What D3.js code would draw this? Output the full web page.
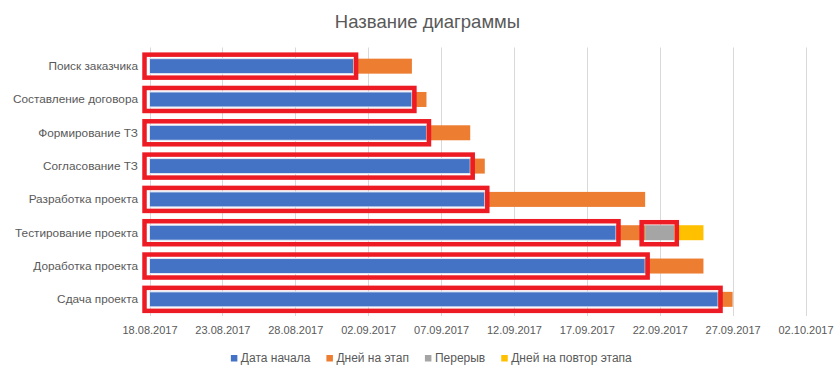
<!DOCTYPE html>
<html>
<head>
<meta charset="utf-8">
<script src="https://cdn.jsdelivr.net/npm/d3@7"></script>
<style>
  html, body { margin: 0; padding: 0; background: #fff; }
  svg { display: block; }
  text { font-family: "Liberation Sans Narrow", "Arial Narrow", "Liberation Sans", sans-serif; fill: #595959; }
</style>
</head>
<body>
<svg id="chart" width="835" height="365"></svg>
<script>
// Project stages and their schedule
const categories = [
  "Поиск заказчика",
  "Составление договора",
  "Формирование ТЗ",
  "Согласование ТЗ",
  "Разработка проекта",
  "Тестирование проекта",
  "Доработка проекта",
  "Сдача проекта"
];
const startDates = [
  "01.09.2017", "05.09.2017", "06.09.2017", "09.09.2017",
  "10.09.2017", "19.09.2017", "21.09.2017", "26.09.2017"
];
const stageDays  = [4, 1, 3, 1, 11, 2, 4, 1];
const pauseDays  = [0, 0, 0, 0, 0, 2, 0, 0];
const repeatDays = [0, 0, 0, 0, 0, 2, 0, 0];

const tickLabels = [
  "18.08.2017", "23.08.2017", "28.08.2017", "02.09.2017", "07.09.2017",
  "12.09.2017", "17.09.2017", "22.09.2017", "27.09.2017", "02.10.2017"
];

const seriesNames  = ["Дата начала", "Дней на этап", "Перерыв", "Дней на повтор этапа"];
const seriesColors = ["#4472C4", "#ED7D31", "#A5A5A5", "#FFC000"];
const markRed = "#ED1C24";

const parseDate = d3.timeParse("%d.%m.%Y");
const addDays = (d, n) => d3.timeDay.offset(d, n);

const ticks = tickLabels.map(parseDate);
const rows = categories.map((name, i) => {
  const start = parseDate(startDates[i]);
  const stageEnd = addDays(start, stageDays[i]);
  const pauseEnd = addDays(stageEnd, pauseDays[i]);
  const repeatEnd = addDays(pauseEnd, repeatDays[i]);
  return { name, start, stageEnd, pauseEnd, repeatEnd, pause: pauseDays[i], repeat: repeatDays[i] };
});

const svg = d3.select("#chart");
const plot = { left: 149.5, right: 805.5, top: 49.5, bottom: 316 };

const x = d3.scaleTime()
  .domain([ticks[0], ticks[ticks.length - 1]])
  .range([plot.left, plot.right]);

const y = d3.scaleBand()
  .domain(categories)
  .range([plot.top, plot.bottom])
  .paddingInner(0.55)
  .paddingOuter(0.275);

const axisMin = x.domain()[0];

// Title
svg.append("text")
  .attr("x", 427.5).attr("y", 27.5)
  .attr("text-anchor", "middle")
  .style("font-size", "18.5px")
  .text("Название диаграммы");

// Vertical gridlines
svg.append("g")
  .selectAll("line")
  .data(ticks)
  .join("line")
  .attr("x1", d => Math.round(x(d)) + 0.5)
  .attr("x2", d => Math.round(x(d)) + 0.5)
  .attr("y1", plot.top - 2)
  .attr("y2", plot.bottom)
  .attr("stroke", "#D9D9D9")
  .attr("stroke-width", 1);

// Date axis labels
const xAxis = d3.axisBottom(x)
  .tickValues(ticks)
  .tickFormat((d, i) => tickLabels[i])
  .tickSize(0)
  .tickPadding(0);
const gx = svg.append("g")
  .attr("transform", `translate(0, ${plot.bottom + 10})`)
  .call(xAxis);
gx.select(".domain").remove();
gx.selectAll("text")
  .attr("fill", "#595959")
  .style("font-size", "11px")
  .style("font-family", null);

// Category labels
const yAxis = d3.axisLeft(y).tickSize(0).tickPadding(0);
const gy = svg.append("g")
  .attr("transform", `translate(${plot.left - 11.5}, 0)`)
  .call(yAxis);
gy.select(".domain").remove();
gy.selectAll("text")
  .attr("fill", "#595959")
  .style("font-size", "11.8px")
  .style("font-family", null);

// Stacked bars
const bh = y.bandwidth();
const bars = svg.append("g");

bars.selectAll("rect.start")
  .data(rows)
  .join("rect")
  .attr("class", "start")
  .attr("x", x(axisMin))
  .attr("y", d => y(d.name))
  .attr("width", d => x(d.start) - x(axisMin))
  .attr("height", bh)
  .attr("fill", seriesColors[0])
  .attr("stroke", "#E4EAF5")
  .attr("stroke-width", 1);

bars.selectAll("rect.stage")
  .data(rows)
  .join("rect")
  .attr("class", "stage")
  .attr("x", d => x(d.start))
  .attr("y", d => y(d.name))
  .attr("width", d => x(d.stageEnd) - x(d.start))
  .attr("height", bh)
  .attr("fill", seriesColors[1]);

bars.selectAll("rect.pause")
  .data(rows.filter(d => d.pause > 0))
  .join("rect")
  .attr("class", "pause")
  .attr("x", d => x(d.stageEnd))
  .attr("y", d => y(d.name))
  .attr("width", d => x(d.pauseEnd) - x(d.stageEnd))
  .attr("height", bh)
  .attr("fill", seriesColors[2]);

bars.selectAll("rect.repeat")
  .data(rows.filter(d => d.repeat > 0))
  .join("rect")
  .attr("class", "repeat")
  .attr("x", d => x(d.pauseEnd))
  .attr("y", d => y(d.name))
  .attr("width", d => x(d.repeatEnd) - x(d.pauseEnd))
  .attr("height", bh)
  .attr("fill", seriesColors[3]);

// Red frames around the waiting part of every stage and around the pause
const marks = svg.append("g")
  .attr("fill", "none")
  .attr("stroke", markRed)
  .attr("stroke-width", 4.5);

marks.selectAll("rect.frame")
  .data(rows)
  .join("rect")
  .attr("class", "frame")
  .attr("x", x(axisMin) - 5)
  .attr("y", d => y(d.name) + bh / 2 - 11.5)
  .attr("width", d => x(d.start) - x(axisMin) + 7.5)
  .attr("height", 23);

marks.selectAll("rect.pauseframe")
  .data(rows.filter(d => d.pause > 0))
  .join("rect")
  .attr("class", "pauseframe")
  .attr("x", d => x(d.stageEnd) - 3.5)
  .attr("y", d => y(d.name) + bh / 2 - 10.5)
  .attr("width", d => x(d.pauseEnd) - x(d.stageEnd) + 6)
  .attr("height", 22);

// Legend
const legendY = 361.5;
const legend = svg.append("g");
const items = legend.selectAll("g")
  .data(seriesNames)
  .join("g");
items.append("rect")
  .attr("y", -6.5)
  .attr("width", 6.5)
  .attr("height", 6.5)
  .attr("fill", (d, i) => seriesColors[i]);
items.append("text")
  .attr("x", 10)
  .style("font-size", "12px")
  .text(d => d);

let cursor = 0;
const gap = 16;
items.each(function () {
  const g = d3.select(this);
  g.attr("transform", `translate(${cursor}, 0)`);
  cursor += 10 + g.select("text").node().getComputedTextLength() + gap;
});
const total = cursor - gap;
legend.attr("transform", `translate(${431.3 - total / 2}, ${legendY})`);
</script>
</body>
</html>
